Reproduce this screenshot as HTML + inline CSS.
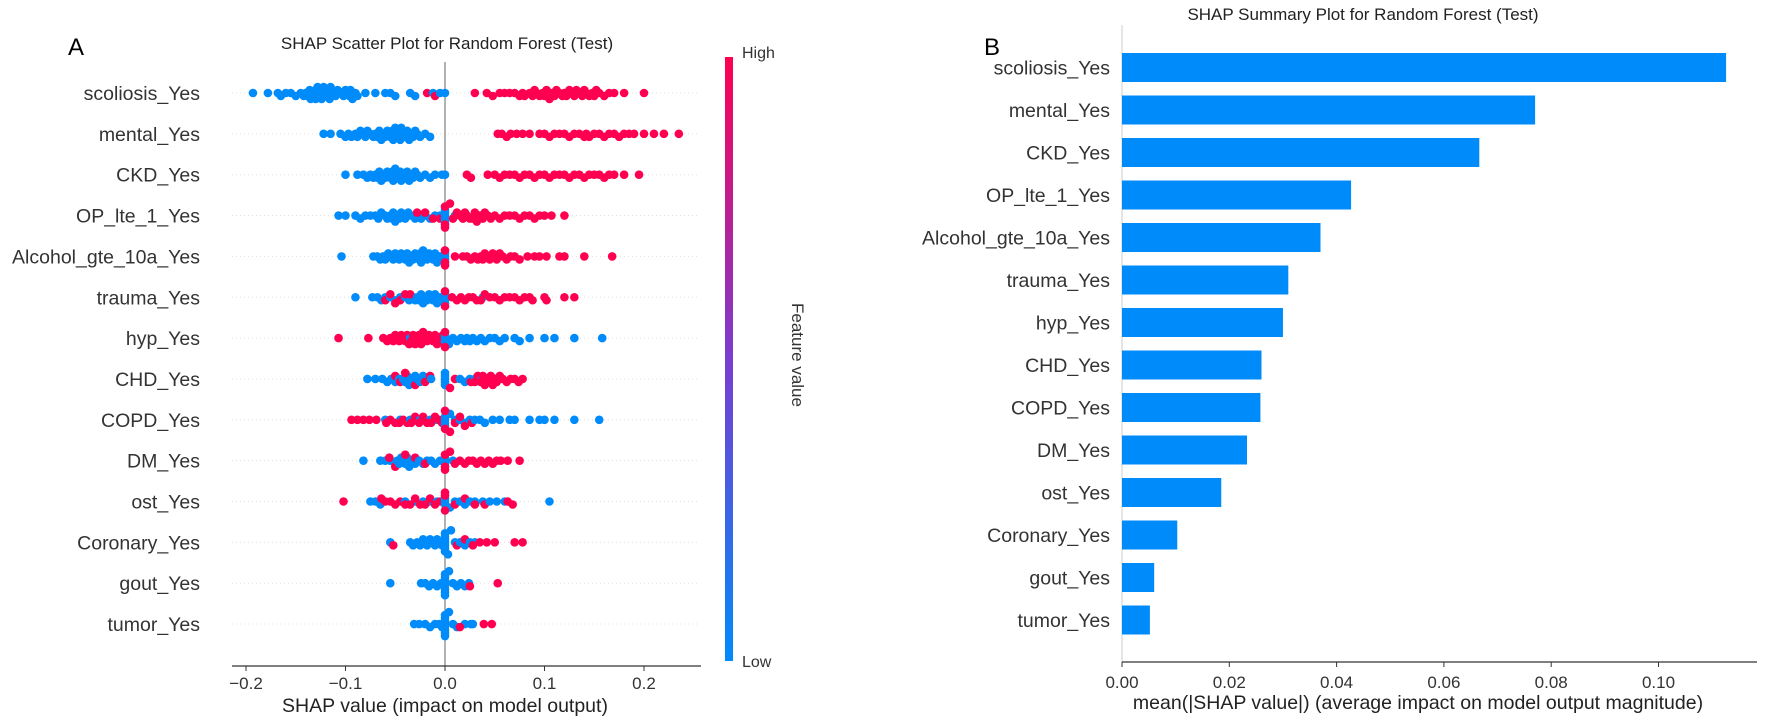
<!DOCTYPE html>
<html><head><meta charset="utf-8"><style>
html,body{margin:0;padding:0;background:#fff;}
svg{display:block;font-family:"Liberation Sans","DejaVu Sans",sans-serif;}
</style></head><body>
<svg id="fig" width="1772" height="718" viewBox="0 0 1772 718">
<defs><linearGradient id="cbar" x1="0" y1="1" x2="0" y2="0"><stop offset="0" stop-color="#008bfb"/><stop offset="0.5" stop-color="#7a3dd0"/><stop offset="1" stop-color="#ff0051"/></linearGradient></defs>
<g id="panelA"></g>
<g id="panelB"></g>
</svg>
<script>
const features = ["scoliosis_Yes","mental_Yes","CKD_Yes","OP_lte_1_Yes","Alcohol_gte_10a_Yes","trauma_Yes","hyp_Yes","CHD_Yes","COPD_Yes","DM_Yes","ost_Yes","Coronary_Yes","gout_Yes","tumor_Yes"];
const meanAbsShap = [0.1126,0.077,0.0666,0.0427,0.037,0.031,0.030,0.026,0.0258,0.0233,0.0185,0.0103,0.006,0.0052];
const scatterTicks = [-0.2,-0.1,0.0,0.1,0.2];
const scatterTickLabels = ["\u22120.2","\u22120.1","0.0","0.1","0.2"];
const barTicks = [0,0.02,0.04,0.06,0.08,0.10];
const barTickLabels = ["0.00","0.02","0.04","0.06","0.08","0.10"];
const lowValues = [
[-0.193,-0.178,-0.168,-0.165,-0.16,-0.155,-0.15,-0.145,-0.142,-0.14,-0.138,-0.136,-0.135,-0.133,-0.132,-0.13,-0.13,-0.128,-0.127,-0.126,-0.125,-0.124,-0.122,-0.12,-0.12,-0.118,-0.116,-0.115,-0.113,-0.11,-0.108,-0.105,-0.102,-0.1,-0.098,-0.096,-0.095,-0.093,-0.09,-0.088,-0.08,-0.07,-0.06,-0.055,-0.05,-0.035,-0.03,-0.012,-0.005,0.0],
[-0.122,-0.115,-0.105,-0.1,-0.097,-0.094,-0.09,-0.088,-0.085,-0.082,-0.08,-0.078,-0.075,-0.072,-0.07,-0.068,-0.066,-0.064,-0.062,-0.06,-0.058,-0.056,-0.055,-0.053,-0.052,-0.05,-0.049,-0.048,-0.046,-0.045,-0.044,-0.042,-0.04,-0.038,-0.036,-0.034,-0.032,-0.03,-0.028,-0.025,-0.02,-0.015],
[-0.1,-0.088,-0.082,-0.078,-0.075,-0.072,-0.07,-0.068,-0.066,-0.064,-0.062,-0.06,-0.058,-0.056,-0.055,-0.053,-0.052,-0.05,-0.048,-0.047,-0.045,-0.044,-0.042,-0.04,-0.038,-0.036,-0.034,-0.032,-0.03,-0.028,-0.025,-0.02,-0.015,-0.01,-0.003,0.0],
[-0.107,-0.1,-0.09,-0.085,-0.08,-0.075,-0.07,-0.067,-0.064,-0.06,-0.058,-0.055,-0.053,-0.052,-0.05,-0.048,-0.046,-0.044,-0.042,-0.04,-0.037,-0.034,-0.03,-0.027,-0.024,-0.02,-0.015,-0.01,-0.005,0,0,0,0,0,0.01,0.033],
[-0.104,-0.072,-0.068,-0.065,-0.062,-0.06,-0.057,-0.055,-0.052,-0.05,-0.048,-0.046,-0.044,-0.042,-0.04,-0.038,-0.036,-0.034,-0.032,-0.03,-0.028,-0.026,-0.025,-0.024,-0.022,-0.02,-0.018,-0.016,-0.014,-0.012,-0.01,-0.008,-0.005,0,0,0],
[-0.09,-0.073,-0.068,-0.064,-0.06,-0.055,-0.05,-0.045,-0.04,-0.036,-0.032,-0.03,-0.028,-0.026,-0.024,-0.022,-0.02,-0.018,-0.016,-0.014,-0.012,-0.01,-0.008,-0.005,0,0,0,0,0.038],
[-0.035,-0.025,0,0,0,0.004,0.008,0.012,0.016,0.02,0.022,0.025,0.028,0.032,0.036,0.04,0.045,0.05,0.055,0.06,0.07,0.075,0.085,0.1,0.11,0.13,0.158],
[-0.078,-0.07,-0.063,-0.058,-0.054,-0.05,-0.046,-0.042,-0.04,-0.038,-0.036,-0.034,-0.032,-0.03,-0.028,-0.025,-0.022,-0.018,-0.014,0,0,0,0,0,0.015,0.02,0.025,0.03,0.037],
[-0.06,-0.045,-0.035,-0.025,-0.015,-0.008,0,0,0,0,0.005,0.01,0.015,0.02,0.025,0.03,0.035,0.04,0.048,0.055,0.065,0.07,0.085,0.095,0.1,0.11,0.13,0.155],
[-0.082,-0.065,-0.06,-0.055,-0.05,-0.048,-0.046,-0.044,-0.042,-0.04,-0.038,-0.036,-0.034,-0.03,-0.026,-0.022,-0.018,-0.014,-0.01,-0.005,0,0,0,0.008],
[-0.075,-0.07,-0.065,-0.04,-0.03,-0.022,-0.015,-0.008,0,0,0,0.005,0.01,0.015,0.02,0.025,0.03,0.038,0.045,0.052,0.06,0.105],
[-0.055,-0.035,-0.032,-0.028,-0.025,-0.022,-0.02,-0.018,-0.015,-0.012,-0.01,-0.008,-0.005,-0.003,0,0,0,0,0,0,0,0.003,0.006,0.01,0.015,0.02,0.025,0.03],
[-0.055,-0.024,-0.02,-0.016,-0.012,-0.008,-0.004,0,0,0,0,0,0,0,0,0.004,0.008,0.012,0.016,0.02,0.024],
[-0.031,-0.026,-0.02,-0.015,-0.01,-0.006,-0.003,0,0,0,0,0,0,0,0,0.004,0.008,0.012,0.02,0.026,0.028]
];
const highValues = [
[-0.018,-0.01,0.03,0.042,0.048,0.055,0.06,0.065,0.07,0.075,0.078,0.08,0.085,0.088,0.09,0.092,0.095,0.098,0.1,0.102,0.105,0.108,0.11,0.112,0.115,0.118,0.12,0.122,0.125,0.128,0.13,0.132,0.135,0.138,0.14,0.142,0.145,0.148,0.15,0.152,0.155,0.16,0.165,0.17,0.18,0.2],
[0.053,0.057,0.062,0.066,0.072,0.078,0.085,0.095,0.1,0.105,0.11,0.115,0.12,0.125,0.13,0.135,0.14,0.142,0.145,0.15,0.155,0.16,0.165,0.17,0.175,0.18,0.185,0.19,0.2,0.21,0.22,0.235],
[0.022,0.026,0.043,0.05,0.055,0.06,0.065,0.07,0.075,0.08,0.085,0.09,0.095,0.1,0.105,0.11,0.115,0.12,0.125,0.13,0.135,0.14,0.145,0.15,0.155,0.16,0.165,0.17,0.18,0.195],
[-0.028,-0.02,-0.012,-0.005,0,0,0,0.005,0.008,0.012,0.015,0.018,0.02,0.022,0.025,0.028,0.03,0.032,0.035,0.038,0.04,0.043,0.046,0.05,0.055,0.06,0.065,0.07,0.075,0.08,0.085,0.09,0.095,0.1,0.107,0.12],
[0,0,0,0.01,0.018,0.022,0.026,0.03,0.033,0.036,0.038,0.04,0.042,0.045,0.048,0.05,0.052,0.055,0.058,0.062,0.066,0.07,0.075,0.083,0.09,0.095,0.102,0.115,0.12,0.14,0.168],
[-0.06,-0.055,-0.05,-0.045,-0.04,-0.035,0,0,0.007,0.012,0.016,0.02,0.024,0.028,0.032,0.036,0.04,0.045,0.05,0.055,0.06,0.065,0.07,0.075,0.08,0.085,0.088,0.1,0.102,0.12,0.13],
[-0.107,-0.077,-0.062,-0.058,-0.055,-0.052,-0.05,-0.048,-0.046,-0.044,-0.042,-0.04,-0.038,-0.036,-0.034,-0.032,-0.03,-0.028,-0.026,-0.024,-0.022,-0.02,-0.018,-0.016,-0.014,-0.012,-0.01,-0.008,-0.006,-0.004,-0.002,0,0],
[-0.05,-0.045,-0.04,-0.03,-0.02,-0.015,0.005,0.01,0.026,0.03,0.033,0.036,0.038,0.04,0.042,0.044,0.046,0.048,0.05,0.052,0.055,0.058,0.062,0.066,0.07,0.074,0.078],
[-0.094,-0.088,-0.082,-0.076,-0.069,-0.059,-0.055,-0.05,-0.046,-0.042,-0.038,-0.034,-0.03,-0.026,-0.022,-0.018,-0.014,-0.01,-0.006,-0.003,0,0,0.005,0.01,0.015,0.02,0.027],
[-0.056,-0.05,-0.04,-0.03,-0.02,0,0,0,0.005,0.01,0.015,0.02,0.024,0.028,0.032,0.036,0.04,0.044,0.048,0.052,0.056,0.063,0.075],
[-0.102,-0.064,-0.06,-0.055,-0.05,-0.045,-0.04,-0.035,-0.03,-0.025,-0.02,-0.015,-0.01,-0.005,0,0,0,0.01,0.02,0.03,0.04,0.063,0.068],
[-0.052,0.012,0.02,0.028,0.035,0.042,0.05,0.07,0.078],
[0.025,0.053],
[0.015,0.039,0.047]
];

const NS="http://www.w3.org/2000/svg";
function mk(parent,tag,attrs,text){const e=document.createElementNS(NS,tag);for(const k in attrs)e.setAttribute(k,attrs[k]);if(text!==undefined)e.textContent=text;parent.appendChild(e);return e;}
const BLUE="#008bfb",RED="#ff0051",TXT="#333";

// ---------- Panel A ----------
const A=document.getElementById('panelA');
const xA=v=>445+v*995;
const yA=i=>93+i*40.85;
let t=mk(A,'text',{x:68,y:55,'font-size':24,fill:'#000'},'A');


t=mk(A,'text',{x:447,y:49,'font-size':17,fill:'#222','text-anchor':'middle'},'SHAP Scatter Plot for Random Forest (Test)');


features.forEach((f,i)=>{
  const l=mk(A,'line',{x1:232,x2:700,y1:yA(i),y2:yA(i),stroke:'#ccc','stroke-width':1,'stroke-dasharray':'1 3',opacity:0.6});
  
  
  const tx=mk(A,'text',{x:200,y:yA(i)+7,'font-size':19.5,fill:TXT,'text-anchor':'end'},f);
  
  
});
let z=mk(A,'line',{x1:xA(0),x2:xA(0),y1:62,y2:666,stroke:'#999','stroke-width':1.5});


features.forEach((f,i)=>{
  const pts=lowValues[i].map(v=>({v,c:BLUE})).concat(highValues[i].map(v=>({v,c:RED})));
  const bins={};
  pts.forEach(p=>{const b=Math.round(xA(p.v)/7);(bins[b]=bins[b]||[]).push(p);});
  Object.keys(bins).forEach(b=>{
    const arr=bins[b];
    arr.forEach((p,k)=>{
      const step=Math.ceil(k/2)*(k%2?1:-1)*3;
      const off=Math.max(-15,Math.min(15,step));
      const c=mk(A,'circle',{cx:xA(p.v),cy:yA(i)+off,r:4.3,fill:p.c});
      
      
    });
  });
});
let ax=mk(A,'line',{x1:232,x2:701,y1:666,y2:666,stroke:'#333','stroke-width':1.3});


scatterTicks.forEach((v,k)=>{
  const tk=mk(A,'line',{x1:xA(v),x2:xA(v),y1:666,y2:671,stroke:'#333','stroke-width':1});
  
  
  const tl=mk(A,'text',{x:xA(v),y:689,'font-size':17,fill:TXT,'text-anchor':'middle'},scatterTickLabels[k]);
  
  
});
t=mk(A,'text',{x:445,y:712,'font-size':19.5,fill:'#222','text-anchor':'middle'},'SHAP value (impact on model output)');


let cb=mk(A,'rect',{x:725,y:57,width:8,height:604,fill:'url(#cbar)'});


t=mk(A,'text',{x:742,y:58,'font-size':16,fill:TXT},'High');


t=mk(A,'text',{x:742,y:667,'font-size':16,fill:TXT},'Low');


t=mk(A,'text',{x:792,y:355,'font-size':17,fill:TXT,'text-anchor':'middle',transform:'rotate(90 792 355)'},'Feature value');



// ---------- Panel B ----------
const B=document.getElementById('panelB');
const xB=v=>1122+v*5365;
const yB=i=>67.5+i*42.5;
t=mk(B,'text',{x:984,y:55,'font-size':24,fill:'#000'},'B');


t=mk(B,'text',{x:1363,y:20,'font-size':17,fill:'#222','text-anchor':'middle'},'SHAP Summary Plot for Random Forest (Test)');


let sp=mk(B,'line',{x1:1122,x2:1122,y1:25,y2:662,stroke:'#ccc','stroke-width':1});


features.forEach((f,i)=>{
  const r=mk(B,'rect',{x:xB(0),y:yB(i)-14.5,width:xB(meanAbsShap[i])-xB(0),height:29,fill:BLUE});
  
  
  const tx=mk(B,'text',{x:1110,y:yB(i)+7,'font-size':19.5,fill:TXT,'text-anchor':'end'},f);
  
  
});
ax=mk(B,'line',{x1:1122,x2:1757,y1:662,y2:662,stroke:'#333','stroke-width':1.3});


barTicks.forEach((v,k)=>{
  const tk=mk(B,'line',{x1:xB(v),x2:xB(v),y1:662,y2:667,stroke:'#333','stroke-width':1});
  
  
  const tl=mk(B,'text',{x:xB(v),y:688,'font-size':17,fill:TXT,'text-anchor':'middle'},barTickLabels[k]);
  
  
});
t=mk(B,'text',{x:1418,y:709,'font-size':19.5,fill:'#222','text-anchor':'middle'},'mean(|SHAP value|) (average impact on model output magnitude)');


</script>
</body></html>
